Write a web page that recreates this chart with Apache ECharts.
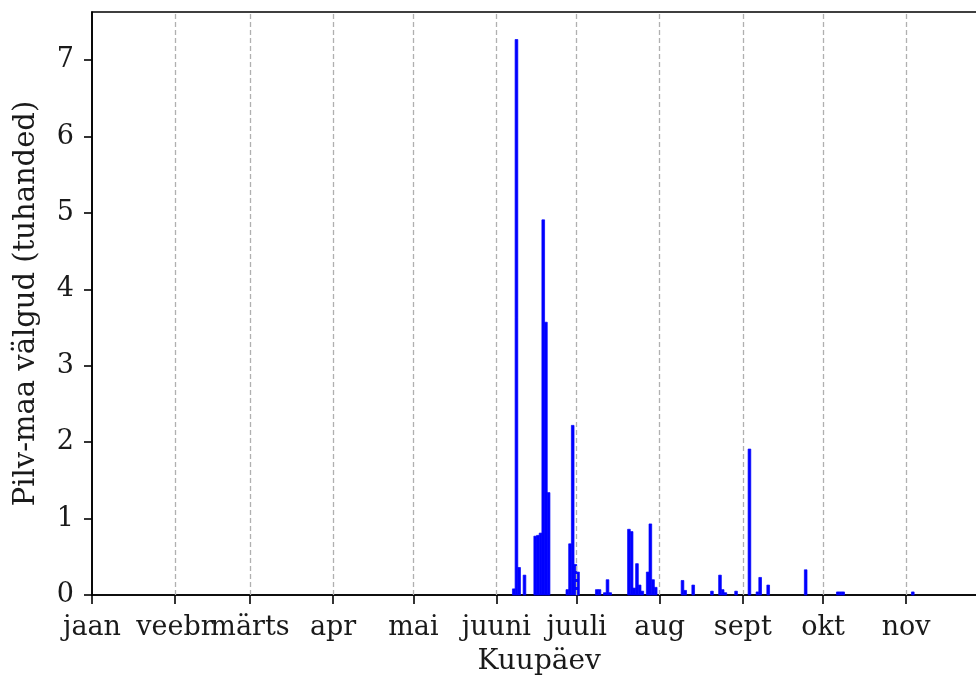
<!DOCTYPE html>
<html><head><meta charset="utf-8">
<script src="https://cdn.jsdelivr.net/npm/echarts@6/dist/echarts.min.js"></script>
<style>html,body{margin:0;padding:0;background:#fff;overflow:hidden;width:976px;height:678px}#c{width:1010px;height:678px}</style>
</head><body><div id="c"></div>
<script>
const YEAR = 2019;
const monthLabels = ['jaan','veebr','märts','apr','mai','juuni','juuli','aug','sept','okt','nov'];
const dates = [
  '2019-06-07','2019-06-08','2019-06-09','2019-06-11',
  '2019-06-15','2019-06-16','2019-06-17','2019-06-18','2019-06-19','2019-06-20',
  '2019-06-27','2019-06-28','2019-06-29','2019-06-30','2019-07-01',
  '2019-07-08','2019-07-09','2019-07-11','2019-07-12','2019-07-13',
  '2019-07-20','2019-07-21','2019-07-22','2019-07-23','2019-07-24','2019-07-25',
  '2019-07-27','2019-07-28','2019-07-29','2019-07-30',
  '2019-08-09','2019-08-10','2019-08-13',
  '2019-08-20','2019-08-23','2019-08-24','2019-08-25','2019-08-29',
  '2019-09-03','2019-09-06','2019-09-07','2019-09-10',
  '2019-09-24',
  '2019-10-06','2019-10-07','2019-10-08',
  '2019-11-03'
];
const values = [
  0.08,7.27,0.36,0.26,
  0.77,0.78,0.81,4.91,3.57,1.34,
  0.07,0.67,2.22,0.40,0.30,
  0.07,0.07,0.03,0.20,0.03,
  0.86,0.83,0.09,0.41,0.13,0.05,
  0.30,0.93,0.20,0.10,
  0.19,0.06,0.13,
  0.05,0.26,0.07,0.03,0.05,
  1.91,0.04,0.23,0.13,
  0.33,
  0.04,0.04,0.04,
  0.04
];
const yTicks = [0,1,2,3,4,5,6,7];
const yMax = 7.63;

const DAY = 86400000;
function doy(s){ const p = s.split('-').map(Number); return (Date.UTC(p[0],p[1]-1,p[2]) - Date.UTC(p[0],0,1))/DAY; }
const monthStarts = monthLabels.map((_, i) => (Date.UTC(YEAR, i, 1) - Date.UTC(YEAR, 0, 1))/DAY);
const xMax = (Date.UTC(YEAR, 11, 1) - Date.UTC(YEAR, 0, 1))/DAY;
const pxPerDay = 2.678;
const barData = dates.map((s, i) => [doy(s), values[i]]);

const font = 'DejaVu Serif';
const fs = 27;
const chart = echarts.init(document.getElementById('c'), null, {renderer:'canvas'});
chart.setOption({
  animation: false,
  backgroundColor: '#fff',
  grid: {left: 92, top: 12, bottom: 83, width: xMax * pxPerDay, show: true, borderColor: '#000', borderWidth: 1.6, backgroundColor: 'transparent', containLabel: false, outerBoundsMode: 'none'},
  xAxis: {
    type: 'value', min: 0, max: xMax,
    axisLine: {show: true, onZero: false, lineStyle: {color: '#000', width: 1.6}},
    axisTick: {show: true, customValues: monthStarts, length: 9, lineStyle: {color: '#000', width: 1.6}},
    axisLabel: {customValues: monthStarts, formatter: v => monthLabels[monthStarts.indexOf(v)], fontFamily: font, fontSize: fs, color: '#1a1a1a', margin: 19},
    splitLine: {show: false},
    name: 'Kuupäev', nameLocation: 'middle', nameGap: 53,
    nameTextStyle: {fontFamily: font, fontSize: 28, color: '#1a1a1a'}
  },
  yAxis: {
    type: 'value', min: 0, max: yMax,
    axisLine: {show: true, lineStyle: {color: '#000', width: 1.6}},
    axisTick: {show: true, customValues: yTicks, length: 8, lineStyle: {color: '#000', width: 1.6}},
    axisLabel: {customValues: yTicks, fontFamily: font, fontSize: fs, color: '#1a1a1a', margin: 18},
    splitLine: {show: false},
    name: 'Pilv-maa välgud (tuhanded)', nameLocation: 'middle', nameGap: 51, nameRotate: 90,
    nameTextStyle: {fontFamily: font, fontSize: 29, color: '#1a1a1a'}
  },
  series: [{
    type: 'custom', data: barData, z: 2,
    encode: {x: 0, y: 1},
    renderItem: function (params, api) {
      const d = api.value(0), v = api.value(1);
      const p0 = api.coord([d, v]);
      const p1 = api.coord([d + 1, 0]);
      return {type: 'rect', shape: {x: p0[0], y: p0[1], width: p1[0] - p0[0], height: p1[1] - p0[1]},
        style: {fill: '#0000ff', stroke: '#0000ff', lineWidth: 0.7}};
    },
    markLine: {
      silent: true, symbol: ['none', 'none'], label: {show: false},
      lineStyle: {type: [5, 3], color: '#b0b0b0', width: 1.3},
      data: monthStarts.slice(1).map(v => ({xAxis: v}))
    }
  }]
});
</script></body></html>
